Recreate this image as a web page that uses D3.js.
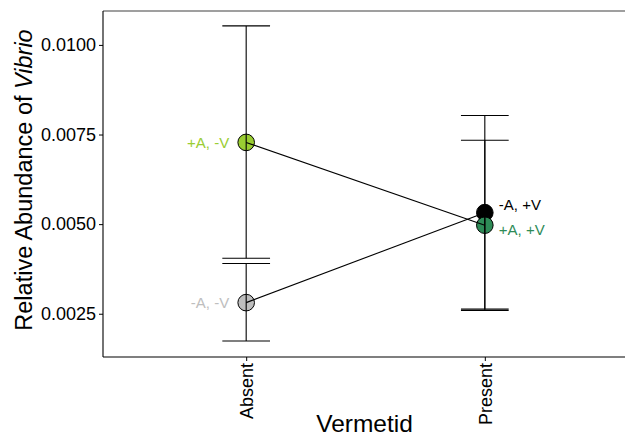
<!DOCTYPE html>
<html>
<head>
<meta charset="utf-8">
<script src="https://cdn.jsdelivr.net/npm/d3@7"></script>
<style>
  body { margin: 0; background: #fff; }
  text { font-family: "Liberation Sans", Arial, Helvetica, sans-serif; }
</style>
</head>
<body>
<div id="chart"></div>
<script>
// values
const categories = ["Absent", "Present"];
const groups = ["+A, -V", "-A, -V", "-A, +V", "+A, +V"];
const vermetid = ["Absent", "Absent", "Present", "Present"];
const algae = ["+A", "-A", "-A", "+A"];
const means = [0.00728, 0.00281, 0.00532, 0.00497];
const lower = [0.00405, 0.00174, 0.00263, 0.00259];
const upper = [0.01053, 0.00390, 0.00803, 0.00734];
const groupColors = ["#9acd32", "#bebebe", "#000000", "#2e8b57"];
const yTicks = [0.0025, 0.0050, 0.0075, 0.0100];

const W = 625, H = 436;
const margin = { top: 11, right: -3, bottom: 79, left: 103 };
const width = W - margin.left - margin.right,
      height = H - margin.top - margin.bottom;

const data = groups.map((g, i) => ({
    group: g, vermetid: vermetid[i], algae: algae[i],
    mean: means[i], lo: lower[i], hi: upper[i], color: groupColors[i]
}));

const svg = d3.select("#chart").append("svg")
    .attr("width", W).attr("height", H);

const g = svg.append("g")
    .attr("transform", "translate(" + margin.left + "," + margin.top + ")");

// discrete axis with ggplot-ish 0.6 expansion on each side
const xIdx = d3.scaleLinear().domain([0.4, 2.6]).range([0, width]);
const x = c => xIdx(categories.indexOf(c) + 1);

const y = d3.scaleLinear().domain([0.001293, 0.010946]).range([height, 0]);

// points first, error bars and lines on top
g.selectAll(".pt").data(data).enter().append("circle")
    .attr("class", "pt")
    .attr("cx", d => x(d.vermetid))
    .attr("cy", d => y(d.mean))
    .attr("r", 8.3)
    .attr("fill", d => d.color)
    .attr("stroke", "#000").attr("stroke-width", 1);

const capHalf = (xIdx(1.1) - xIdx(1));
const eb = g.selectAll(".eb").data(data).enter().append("g").attr("class", "eb");
eb.append("line")
    .attr("x1", d => x(d.vermetid)).attr("x2", d => x(d.vermetid))
    .attr("y1", d => y(d.lo)).attr("y2", d => y(d.hi))
    .attr("stroke", "#000").attr("stroke-width", 1.1);
eb.append("line")
    .attr("x1", d => x(d.vermetid) - capHalf).attr("x2", d => x(d.vermetid) + capHalf)
    .attr("y1", d => y(d.lo)).attr("y2", d => y(d.lo))
    .attr("stroke", "#000").attr("stroke-width", 1.1);
eb.append("line")
    .attr("x1", d => x(d.vermetid) - capHalf).attr("x2", d => x(d.vermetid) + capHalf)
    .attr("y1", d => y(d.hi)).attr("y2", d => y(d.hi))
    .attr("stroke", "#000").attr("stroke-width", 1.1);

const lineGen = d3.line().x(d => x(d.vermetid)).y(d => y(d.mean));
d3.groups(data, d => d.algae).forEach(([k, pts]) => {
    g.append("path")
        .attr("d", lineGen(pts))
        .attr("fill", "none")
        .attr("stroke", "#000").attr("stroke-width", 1.1);
});

// point labels
g.selectAll(".lab").data(data).enter().append("text")
    .attr("class", "lab")
    .attr("x", d => d.vermetid === "Absent" ? x(d.vermetid) - 17 : x(d.vermetid) + 14)
    .attr("y", d => y(d.mean) + (d.group === "-A, +V" ? -8 : d.group === "+A, +V" ? 5 : 0))
    .attr("dy", "0.35em")
    .attr("text-anchor", d => d.vermetid === "Absent" ? "end" : "start")
    .attr("fill", d => d.color)
    .style("font-size", "15px")
    .text(d => d.group);

// panel borders
g.append("line").attr("x1", 0).attr("x2", width).attr("y1", 0).attr("y2", 0)
    .attr("stroke", "#7f7f7f").attr("stroke-width", 1.3);
g.append("line").attr("x1", 0).attr("x2", 0).attr("y1", 0).attr("y2", height)
    .attr("stroke", "#000").attr("stroke-width", 1.1);
g.append("line").attr("x1", 0).attr("x2", width).attr("y1", height).attr("y2", height)
    .attr("stroke", "#000").attr("stroke-width", 1.1);

// axes
const yAxis = g.append("g")
    .call(d3.axisLeft(y).tickValues(yTicks).tickFormat(d3.format(".4f")).tickSize(4).tickPadding(3));
yAxis.select(".domain").remove();
yAxis.selectAll("text").style("font-size", "18px").attr("fill", "#000");

const xAxis = g.append("g")
    .attr("transform", "translate(0," + height + ")")
    .call(d3.axisBottom(xIdx).tickValues([1, 2]).tickFormat(i => categories[i - 1]).tickSize(4));
xAxis.select(".domain").remove();
xAxis.selectAll("text")
    .style("font-size", "18px").attr("fill", "#000")
    .attr("transform", "rotate(-90)")
    .attr("text-anchor", "end")
    .attr("x", -6).attr("y", 0).attr("dy", "0.35em");

// titles
svg.append("text")
    .attr("x", margin.left + (x("Absent") + x("Present")) / 2 - 1)
    .attr("y", 432)
    .attr("text-anchor", "middle")
    .style("font-size", "24.5px")
    .text("Vermetid");

const yt = svg.append("text")
    .attr("transform", "translate(32," + (margin.top + height / 2 - 4) + ") rotate(-90)")
    .attr("text-anchor", "middle")
    .style("font-size", "23.5px");
yt.append("tspan").text("Relative Abundance of ");
yt.append("tspan").style("font-style", "italic").text("Vibrio");
</script>
</body>
</html>
